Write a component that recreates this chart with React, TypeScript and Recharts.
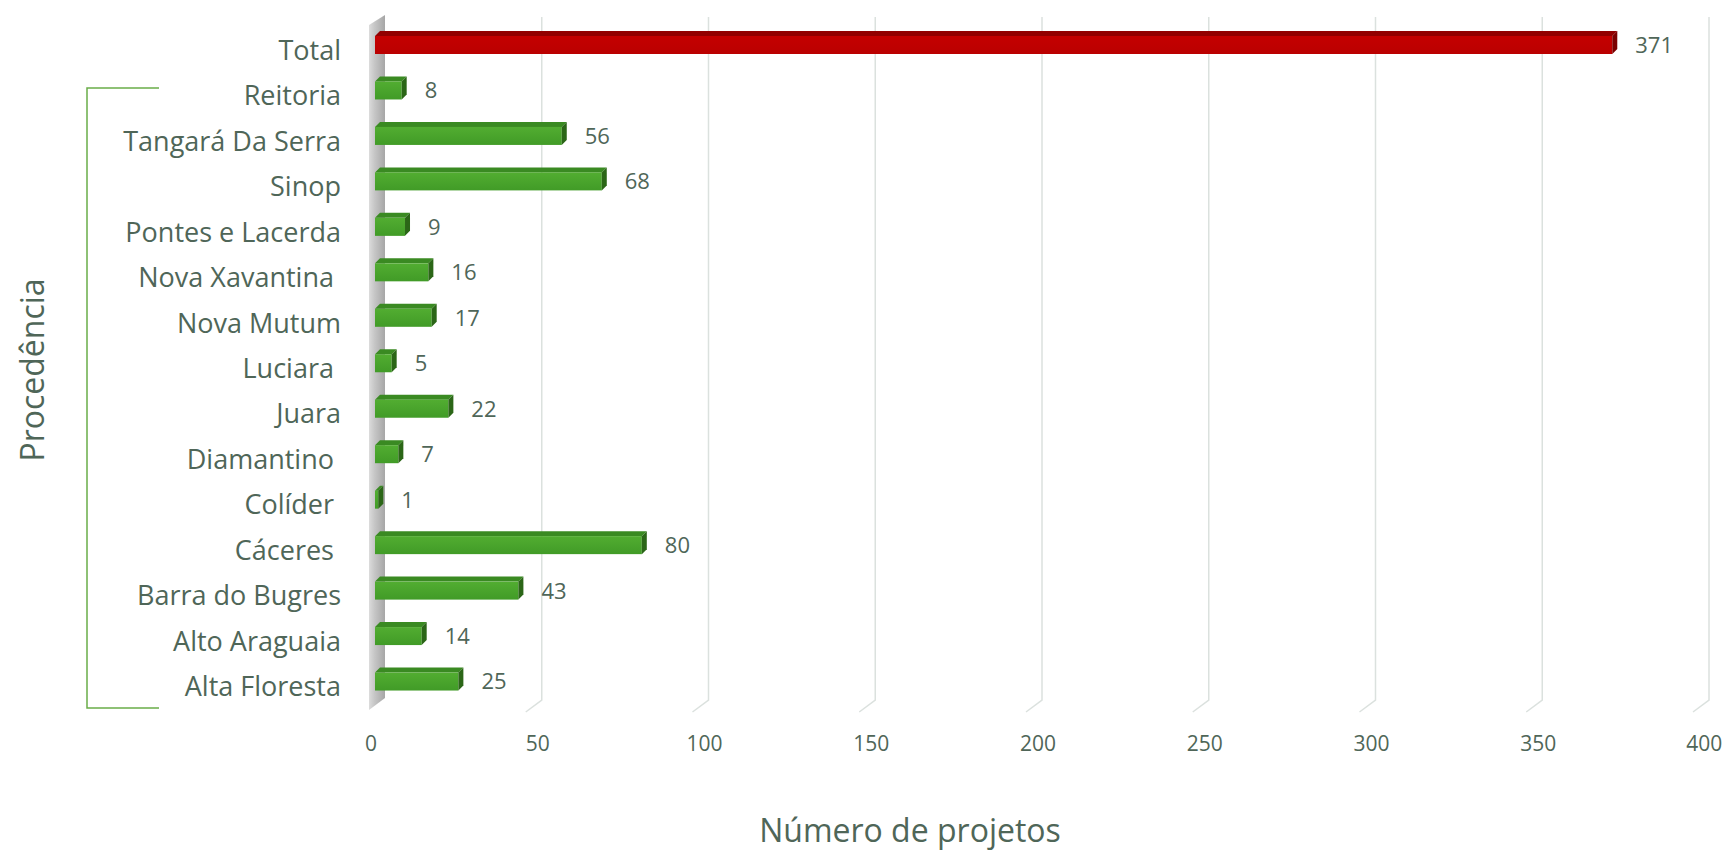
import React from 'react';
import { BarChart, Bar, XAxis, YAxis, CartesianGrid, LabelList } from 'recharts';

const categories = [
  'Total', 'Reitoria', 'Tangará Da Serra', 'Sinop', 'Pontes e Lacerda', 'Nova Xavantina ',
  'Nova Mutum', 'Luciara ', 'Juara', 'Diamantino ', 'Colíder ', 'Cáceres ',
  'Barra do Bugres', 'Alto Araguaia', 'Alta Floresta',
];
const projectCounts = [371, 8, 56, 68, 9, 16, 17, 5, 22, 7, 1, 80, 43, 14, 25];
const xTicks = [0, 50, 100, 150, 200, 250, 300, 350, 400];
const xTitle = 'Número de projetos';
const yTitle = 'Procedência';

const data = categories.map((name, i) => ({ name, value: projectCounts[i], isTotal: i === 0 }));

const FONT = '"Open Sans", Lato, sans-serif';
const TEXT = '#4f6658';
const DEPTH = 5;

const GREEN = { grad: 'gFront', top: '#3a8a22', side: '#2b6617' };
const RED = { grad: 'rFront', top: '#920000', side: '#7a0000' };

const Bar3D = (props: any) => {
  const { x, y, width, height, payload } = props;
  const d = DEPTH;
  const c = payload && payload.isTotal ? RED : GREEN;
  const w = Math.max(width, 0);
  return (
    <g>
      <polygon points={`${x},${y + d} ${x + d},${y} ${x + w + d},${y} ${x + w},${y + d}`} fill={c.top} />
      <rect x={x} y={y + d} width={w} height={height - d} fill={`url(#${c.grad})`} />
      <polygon
        points={`${x + w},${y + d} ${x + w + d},${y} ${x + w + d},${y + height - d} ${x + w},${y + height}`}
        fill={c.side}
      />
    </g>
  );
};

const gridLine = (props: any) => {
  const { x1, y1, y2, index } = props;
  if (index === 0 || Math.abs(x1 - 375) < 2) {
    return (
      <polygon
        key={`wall-${index}`}
        points={`${x1 - 6},${y1 + 5} ${x1 + 10},${y1 - 5} ${x1 + 10},${y2 - 4} ${x1 - 6},${y2 + 8}`}
        fill="url(#wallGrad)"
      />
    );
  }
  return (
    <path
      key={`grid-${index}`}
      d={`M${x1},${y1 - 3} V${y2 - 2} l-16,12`}
      stroke="#dbe1de"
      strokeWidth={1.5}
      fill="none"
    />
  );
};

const YTick = (props: any) => {
  const { x, y, payload } = props;
  return (
    <text
      x={x}
      y={y}
      dy={17}
      textAnchor="end"
      fill={TEXT}
      fontSize={27}
      fontFamily={FONT}
      style={{ whiteSpace: 'pre' }}
    >
      {payload.value}
    </text>
  );
};

const ValueLabel = (props: any) => {
  const { x, y, width, height, value } = props;
  return (
    <text
      x={x + width + 23}
      y={y + DEPTH + (height - DEPTH) / 2}
      dy="0.36em"
      fill={TEXT}
      fontSize={22}
      fontFamily={FONT}
    >
      {value}
    </text>
  );
};

export default function App() {
  return (
    <div style={{ position: 'fixed', left: 0, top: 0, width: 1724, height: 850, background: '#fff' }}>
      <BarChart
        width={1724}
        height={850}
        data={data}
        layout="vertical"
        margin={{ top: 20, right: 15, left: 0, bottom: 0 }}
        barSize={23}
      >
        <defs>
          <linearGradient id="gFront" x1="0" y1="0" x2="0" y2="1">
            <stop offset="0%" stopColor="#52ad31" />
            <stop offset="100%" stopColor="#419b27" />
          </linearGradient>
          <linearGradient id="rFront" x1="0" y1="0" x2="0" y2="1">
            <stop offset="0%" stopColor="#c40000" />
            <stop offset="100%" stopColor="#ba0000" />
          </linearGradient>
          <linearGradient id="wallGrad" x1="0" y1="0" x2="1" y2="0">
            <stop offset="0%" stopColor="#dcdcdc" />
            <stop offset="35%" stopColor="#c6c6c6" />
            <stop offset="100%" stopColor="#a6a6a6" />
          </linearGradient>
        </defs>
        <CartesianGrid horizontal={false} vertical={gridLine as any} />
        <XAxis
          type="number"
          domain={[0, 400]}
          ticks={xTicks}
          axisLine={false}
          tickLine={false}
          tickSize={0}
          tickMargin={34}
          height={148}
          tick={{ fill: TEXT, fontSize: 21, fontFamily: FONT, dx: -4 }}
          label={{
            value: xTitle,
            position: 'insideBottom',
            offset: 8,
            dx: -132,
            style: { fill: TEXT, fontSize: 32, fontFamily: FONT },
          }}
        />
        <YAxis
          type="category"
          dataKey="name"
          width={375}
          axisLine={false}
          tickLine={false}
          tickSize={0}
          tickMargin={34}
          interval={0}
          tick={<YTick />}
        />
        <Bar dataKey="value" shape={<Bar3D />} isAnimationActive={false}>
          <LabelList dataKey="value" content={<ValueLabel />} />
        </Bar>
      </BarChart>
      <svg
        width={1724}
        height={850}
        style={{ position: 'absolute', left: 0, top: 0, pointerEvents: 'none' }}
      >
        <path d="M159,88 H87 V708 H159" stroke="#6aad48" strokeWidth={1.5} fill="none" />
        <text
          x={33}
          y={370}
          transform="rotate(-90 33 370)"
          textAnchor="middle"
          dy="0.35em"
          fill={TEXT}
          fontSize={32}
          fontFamily={FONT}
        >
          {yTitle}
        </text>
      </svg>
    </div>
  );
}
